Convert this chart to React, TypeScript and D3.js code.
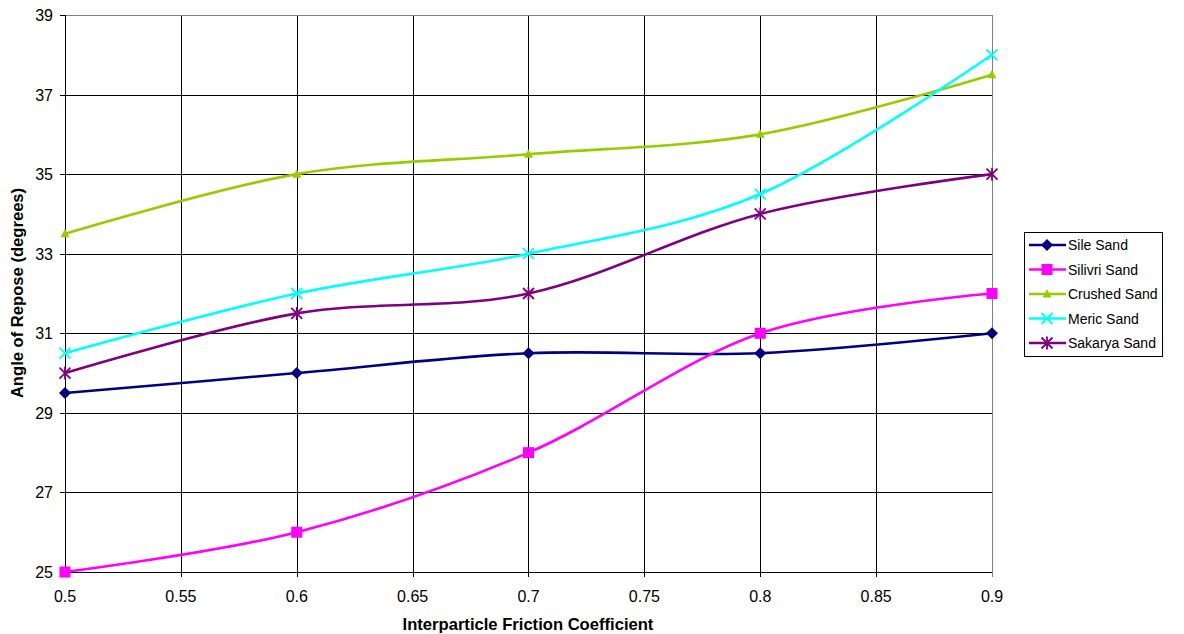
import React from "react";
import * as d3 from "d3";

const frictionCoefficients = [0.5, 0.6, 0.7, 0.8, 0.9];
const sileSand = [29.5, 30, 30.5, 30.5, 31];
const silivriSand = [25, 26, 28, 31, 32];
const crushedSand = [33.5, 35, 35.5, 36, 37.5];
const mericSand = [30.5, 32, 33, 34.5, 38];
const sakaryaSand = [30, 31.5, 32, 34, 35];

const xTicks = [0.5, 0.55, 0.6, 0.65, 0.7, 0.75, 0.8, 0.85, 0.9];
const yTicks = [25, 27, 29, 31, 33, 35, 37, 39];

type Marker = "diamond" | "square" | "triangle" | "cross" | "star";
const series: { name: string; values: number[]; color: string; marker: Marker }[] = [
  { name: "Sile Sand", values: sileSand, color: "#000080", marker: "diamond" },
  { name: "Silivri Sand", values: silivriSand, color: "#FF00FF", marker: "square" },
  { name: "Crushed Sand", values: crushedSand, color: "#99CC00", marker: "triangle" },
  { name: "Meric Sand", values: mericSand, color: "#00FFFF", marker: "cross" },
  { name: "Sakarya Sand", values: sakaryaSand, color: "#800080", marker: "star" },
];

const W = 1184;
const H = 634;
const left = 65;
const right = 992;
const top = 15;
const bottom = 572;

function MarkerShape({ type, x, y, color }: { type: Marker; x: number; y: number; color: string }) {
  switch (type) {
    case "diamond":
      return <path d={`M${x},${y - 6}L${x + 6},${y}L${x},${y + 6}L${x - 6},${y}Z`} fill={color} />;
    case "square":
      return <rect x={x - 5.5} y={y - 5.5} width={11} height={11} fill={color} />;
    case "triangle":
      return <path d={`M${x},${y - 5}L${x + 4.5},${y + 3.5}L${x - 4.5},${y + 3.5}Z`} fill={color} />;
    case "cross":
      return (
        <path
          d={`M${x - 5.5},${y - 5.5}L${x + 5.5},${y + 5.5}M${x - 5.5},${y + 5.5}L${x + 5.5},${y - 5.5}`}
          stroke={color}
          strokeWidth={1.8}
        />
      );
    case "star":
      return (
        <path
          d={`M${x - 5.5},${y - 5.5}L${x + 5.5},${y + 5.5}M${x - 5.5},${y + 5.5}L${x + 5.5},${y - 5.5}M${x},${y - 6.5}L${x},${y + 6.5}`}
          stroke={color}
          strokeWidth={1.8}
        />
      );
  }
}

export default function App() {
  const x = d3.scaleLinear().domain([0.5, 0.9]).range([left, right]);
  const y = d3.scaleLinear().domain([25, 39]).range([bottom, top]);
  const line = d3
    .line<number>()
    .x((_, i) => x(frictionCoefficients[i]))
    .y((v) => y(v))
    .curve(d3.curveCatmullRom.alpha(0));

  const font = "Arial, 'Liberation Sans', sans-serif";
  const legendX = 1024;
  const legendY = 232;
  const rowH = 24.5;

  return (
    <svg width={W} height={H} style={{ position: "absolute", left: 0, top: 0, background: "#fff" }} fontFamily={font}>
      {/* grid */}
      {xTicks.map((t) => (
        <line key={"gx" + t} x1={Math.round(x(t)) + 0.5} x2={Math.round(x(t)) + 0.5} y1={top} y2={bottom + 5} stroke="#000" strokeWidth={1} />
      ))}
      {yTicks.map((t) => (
        <line key={"gy" + t} x1={left - 5} x2={right} y1={Math.round(y(t)) + 0.5} y2={Math.round(y(t)) + 0.5} stroke="#000" strokeWidth={1} />
      ))}
      <line x1={left} x2={right} y1={top + 0.5} y2={top + 0.5} stroke="#808080" />
      <line x1={right + 0.5} x2={right + 0.5} y1={top} y2={bottom + 5} stroke="#808080" />
      <line x1={left + 0.5} x2={left + 0.5} y1={top} y2={bottom + 5} stroke="#000" />
      <line x1={left - 5} x2={right} y1={bottom + 0.5} y2={bottom + 0.5} stroke="#000" />

      {/* tick labels */}
      {yTicks.map((t) => (
        <text key={"ty" + t} x={53} y={y(t) + 6} fontSize={16} textAnchor="end" fill="#000">
          {t}
        </text>
      ))}
      {xTicks.map((t) => (
        <text key={"tx" + t} x={x(t)} y={602} fontSize={16} textAnchor="middle" fill="#000">
          {String(t)}
        </text>
      ))}

      {/* axis titles */}
      <text x={528} y={630} fontSize={16.6} fontWeight="bold" textAnchor="middle">
        Interparticle Friction Coefficient
      </text>
      <text transform={`translate(23,293) rotate(-90)`} fontSize={16.6} fontWeight="bold" textAnchor="middle">
        Angle of Repose (degrees)
      </text>

      {/* series */}
      {series.map((s) => (
        <g key={s.name}>
          <path d={line(s.values) || ""} fill="none" stroke={s.color} strokeWidth={2.6} />
          {s.values.map((v, i) => (
            <MarkerShape key={i} type={s.marker} x={x(frictionCoefficients[i])} y={y(v)} color={s.color} />
          ))}
        </g>
      ))}

      {/* legend */}
      <rect x={legendX + 0.5} y={legendY + 0.5} width={138} height={124} fill="#fff" stroke="#000" />
      {series.map((s, i) => {
        const cy = legendY + 13 + i * rowH;
        return (
          <g key={"lg" + s.name}>
            <line x1={legendX + 5} x2={legendX + 42} y1={cy} y2={cy} stroke={s.color} strokeWidth={2.6} />
            <MarkerShape type={s.marker} x={legendX + 23} y={cy} color={s.color} />
            <text x={legendX + 44} y={cy + 5} fontSize={14} fill="#000">
              {s.name}
            </text>
          </g>
        );
      })}
    </svg>
  );
}
